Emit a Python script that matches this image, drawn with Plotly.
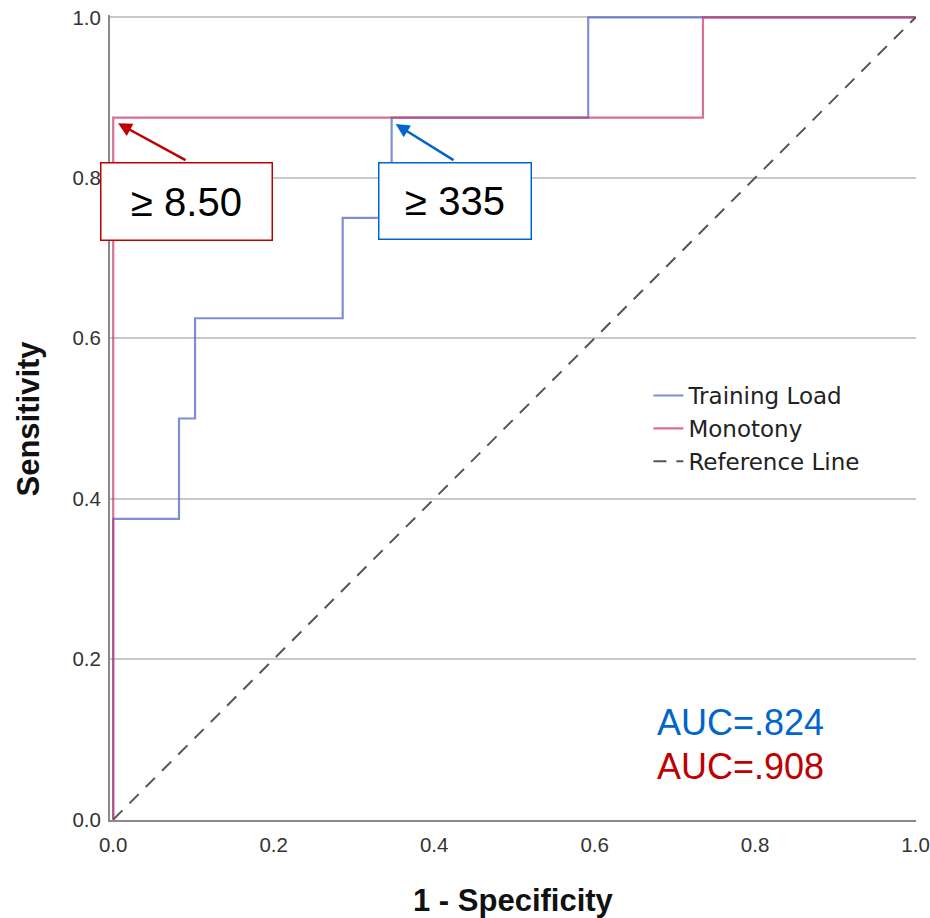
import plotly.graph_objects as go

# ROC data
tl_fpr = [0.0, 0.0, 0.082, 0.102, 0.286, 0.347, 0.592, 1.0]
tl_tpr = [0.0, 0.375, 0.5, 0.625, 0.75, 0.875, 1.0, 1.0]
mo_fpr = [0.0, 0.0, 0.735, 1.0]
mo_tpr = [0.0, 0.875, 1.0, 1.0]
ref_x = [0.0, 1.0]
ref_y = [0.0, 1.0]
tick_vals = [0.0, 0.2, 0.4, 0.6, 0.8, 1.0]
auc_labels = ["AUC=.824", "AUC=.908"]
cutoff_labels = ["≥ 8.50", "≥ 335"]

BLUE_LINE = "rgba(75,100,195,0.72)"
PINK_LINE = "rgba(200,55,110,0.72)"
RED = "#c00000"
BLUE = "#0066cc"

fig = go.Figure()
fig.add_trace(go.Scatter(x=tl_fpr, y=tl_tpr, mode="lines", line_shape="hv",
                         line=dict(color=BLUE_LINE, width=2.2), name="Training Load"))
fig.add_trace(go.Scatter(x=mo_fpr, y=mo_tpr, mode="lines", line_shape="hv",
                         line=dict(color=PINK_LINE, width=2.2), name="Monotony"))
fig.add_trace(go.Scatter(x=ref_x, y=ref_y, mode="lines",
                         line=dict(color="#555555", width=2, dash="13px,10px"),
                         name="Reference Line"))

tickfont = dict(family="Liberation Sans, Arial", size=20.5, color="#333333")
fig.update_xaxes(range=[-0.004, 1.0005], tickvals=tick_vals, tickformat=".1f",
                 showgrid=False, zeroline=False, showline=True, linecolor="#8a8a8a",
                 linewidth=2, ticks="", tickfont=tickfont, ticklabelstandoff=5,
                 automargin=False)
fig.update_yaxes(range=[-0.0005, 1.003], tickvals=tick_vals, tickformat=".1f",
                 showgrid=True, gridcolor="#c8c8c8", gridwidth=2, zeroline=False,
                 showline=True, linecolor="#8a8a8a", linewidth=2, ticks="",
                 tickfont=tickfont, ticklabelstandoff=3, automargin=False)

annos = []
# axis titles
titlefont = dict(family="Liberation Sans, Arial", size=31, color="#111111")
annos.append(dict(text="<b>1 - Specificity</b>", xref="paper", yref="paper", x=0.5, y=0,
                  yshift=-80, showarrow=False, font=titlefont, xanchor="center", yanchor="middle"))
annos.append(dict(text="<b>Sensitivity</b>", xref="paper", yref="paper", x=0, y=0.5,
                  xshift=-82, yshift=-1, textangle=-90, showarrow=False, font=titlefont,
                  xanchor="center", yanchor="middle"))
# AUC labels
aucfont = "Liberation Sans, Arial"
annos.append(dict(text=auc_labels[0], xref="x", yref="y", x=0.675, y=0.121, showarrow=False,
                  xanchor="left", yanchor="middle", font=dict(family=aucfont, size=36, color=BLUE)))
annos.append(dict(text=auc_labels[1], xref="x", yref="y", x=0.675, y=0.066, showarrow=False,
                  xanchor="left", yanchor="middle", font=dict(family=aucfont, size=36, color=RED)))
# arrows
annos.append(dict(text="", x=0.006, y=0.868, ax=0.092, ay=0.821, xref="x", yref="y",
                  axref="x", ayref="y", showarrow=True, arrowhead=2, arrowsize=1.1,
                  arrowwidth=2.5, arrowcolor=RED))
annos.append(dict(text="", x=0.352, y=0.867, ax=0.426, ay=0.821, xref="x", yref="y",
                  axref="x", ayref="y", showarrow=True, arrowhead=2, arrowsize=1.1,
                  arrowwidth=2.5, arrowcolor=BLUE))
# cutoff boxes
boxfont = dict(family="Liberation Sans, Arial", size=40, color="#000000")
annos.append(dict(text=cutoff_labels[0], x=0.0915, y=0.770, xref="x", yref="y", showarrow=False,
                  xanchor="center", yanchor="middle", bgcolor="white", bordercolor=RED,
                  borderwidth=1.5, borderpad=0, width=170, height=76, font=boxfont))
annos.append(dict(text=cutoff_labels[1], x=0.426, y=0.771, xref="x", yref="y", showarrow=False,
                  xanchor="center", yanchor="middle", bgcolor="white", bordercolor=BLUE,
                  borderwidth=1.5, borderpad=0, width=151, height=75, font=boxfont))

fig.update_layout(
    width=930, height=918,
    margin=dict(l=110, r=14, t=15, b=98, autoexpand=False),
    plot_bgcolor="white", paper_bgcolor="white",
    showlegend=True,
    legend=dict(x=0.668, y=0.554, xanchor="left", yanchor="top",
                font=dict(family="DejaVu Sans", size=23, color="#222222"),
                bgcolor="rgba(0,0,0,0)", tracegroupgap=0, itemwidth=30),
    annotations=annos,
)

fig.write_html("out.html")
